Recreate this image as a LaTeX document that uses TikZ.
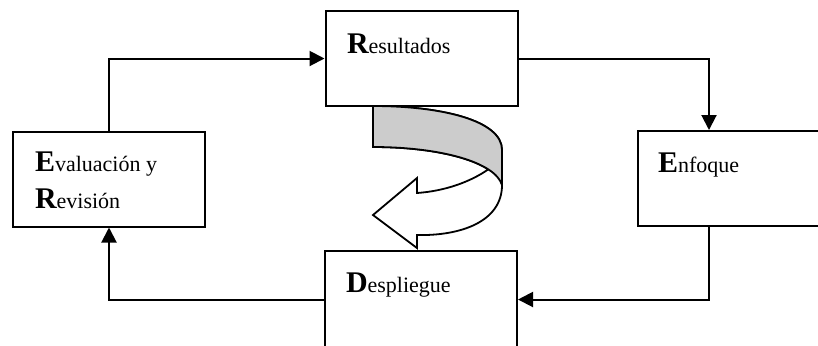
\documentclass[tikz,border=0pt]{standalone}
\usepackage{fontspec}
\setmainfont{Liberation Serif}
\usetikzlibrary{arrows.meta}

\definecolor{bandgray}{RGB}{204,204,204}

% large bold initial followed by the rest of the word
\newcommand{\initcap}[1]{{\fontsize{15}{17}\selectfont\bfseries #1}}
\newcommand{\restword}[1]{{\fontsize{11}{13}\selectfont #1}}

\begin{document}
\begin{tikzpicture}[x=0.5pt,y=-0.5pt,
  stage/.style={draw,line width=1pt,fill=white,inner sep=0pt,
    minimum width=96pt,minimum height=47.5pt},
  lbl/.style={anchor=base west,inner sep=0pt,outer sep=0pt},
  flow/.style={line width=1pt,-{Triangle[length=7.5pt,width=7.5pt]}},
  turn/.style={line width=0.9pt,line join=miter}]
\useasboundingbox (0,0) rectangle (818,345);

% the four stage boxes
\node[stage] (res)  at (421.5,58.5) {};
\node[stage] (enf)  at (734,178.5) {};
\node[stage] (eval) at (109,179) {};
\node[stage,minimum height=48.5pt] (desp) at (421,299.5) {};

% box captions
\node[lbl] (tres)  at (347,53)    {\initcap{R}\restword{esultados}};
\node[lbl] (tenf)  at (658,172.7) {\initcap{E}\restword{nfoque}};
\node[lbl] (teva)  at (35,171.7)  {\initcap{E}\restword{valuación y}};
\node[lbl] (trev)  at (35,208.3)  {\initcap{R}\restword{evisión}};
\node[lbl] (tdesp) at (346,292.7) {\initcap{D}\restword{espliegue}};

% cycle connectors
\draw[flow] (eval.north) |- (res.west);
\draw[flow] (res.east) -| ([xshift=36pt]enf.north west);
\draw[flow] ([xshift=36pt]enf.south west) |- (desp.east);
\draw[flow] (desp.west) -| (eval.south);

% curved turning arrow: white body first, shaded band on top
\draw[turn,fill=white]
  (373,147) .. controls (423.25,147) and (466.75,155.44) .. (488.31,169.36)
  .. controls (470,182) and (445,191) .. (417,193)
  -- (417,178) -- (373,215) -- (417,248) -- (417,235)
  .. controls (460,236) and (502,222) .. (502,185)
  -- (502,150) .. controls (502,120) and (440,106) .. (373,106) -- cycle;
\draw[turn,fill=bandgray]
  (373,106) .. controls (440,106) and (502,120) .. (502,150)
  -- (502,185) .. controls (495,162) and (440,147) .. (373,147) -- cycle;
\end{tikzpicture}
\end{document}
